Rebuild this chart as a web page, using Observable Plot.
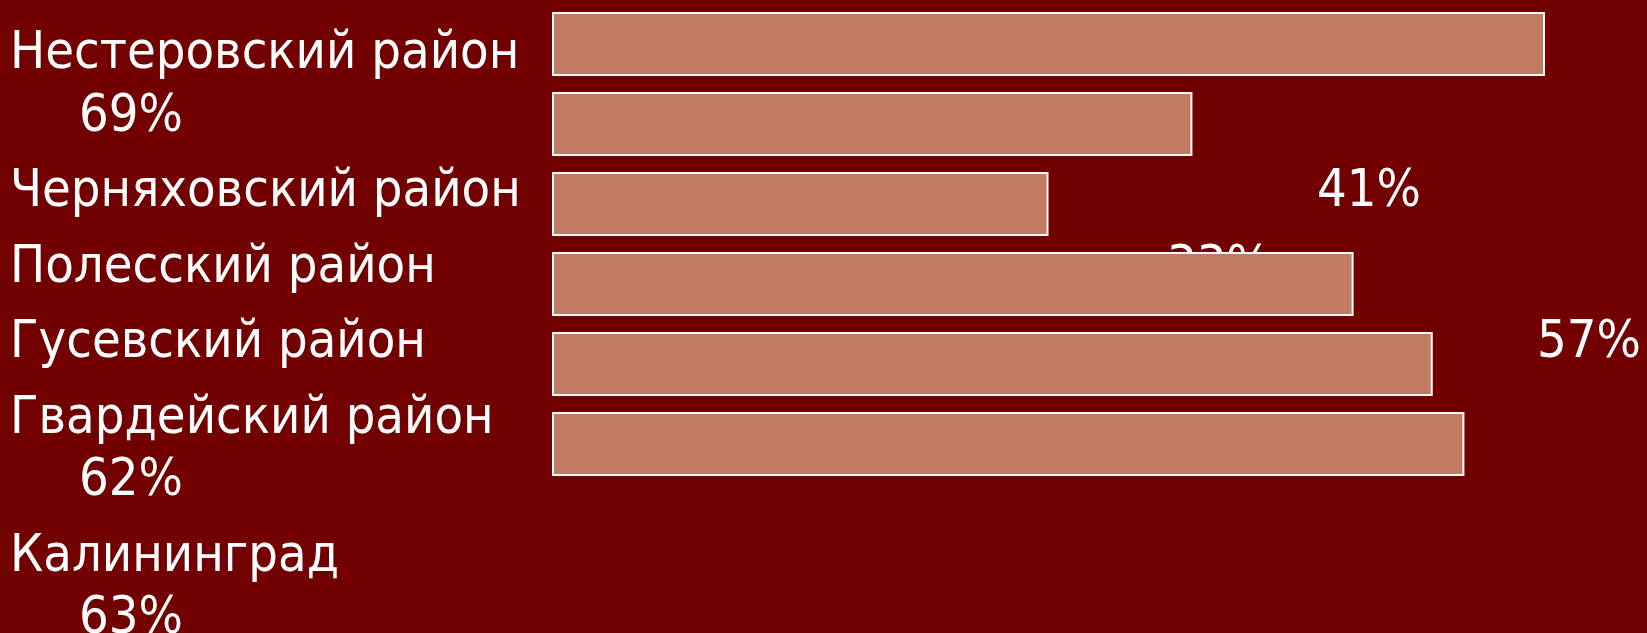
<!DOCTYPE html>
<html>
<head>
<meta charset="utf-8">
<script src="https://cdn.jsdelivr.net/npm/d3@7"></script>
<script src="https://cdn.jsdelivr.net/npm/@observablehq/plot@0.6"></script>
<style>
  html, body { margin: 0; padding: 0; background: #720000; }
  #stage { position: relative; width: 1647px; height: 633px; overflow: hidden; background: #720000; }
  #textblock {
    position: absolute; left: 10px; top: 0px; z-index: 0;
    font-family: "DejaVu Sans Condensed", "DejaVu Sans", sans-serif;
    font-size: 52px; line-height: 62.5px; color: #ffffff; white-space: nowrap;
  }
  #textblock .para { position: relative; margin-top: 13px; }
  #textblock .para:first-child { margin-top: 19px; }
  #textblock .line { position: relative; height: 62.5px; }
  #textblock .wrap { padding-left: 69px; }
  #textblock .tab { position: absolute; top: 0; }
  #chart { position: absolute; left: 0; top: 0; z-index: 1; }
  #chart svg { background: transparent; overflow: visible; }
</style>
</head>
<body>
<div id="stage">
  <div id="textblock"></div>
  <div id="chart"></div>
</div>
<script>
// Categories (top to bottom)
const districts = ["Нестеровский район", "Черняховский район", "Полесский район", "Гусевский район", "Гвардейский район", "Калининград"];
// Percent labels as printed in the text block
const percentLabels = ["69%", "41%", "33%", "57%", "62%", "63%"];
// Bar lengths (percent)
const barValues = [69, 44.5, 34.5, 55.7, 61.2, 63.4];
// How each label is laid out in the text block: "wrap" = percent on next line, "tab" = percent after tab stop
const labelLayout = ["wrap", "tab", "tab", "tab", "wrap", "wrap"];
const tabStops = [null, 1307, 1157, 1527, null, null];

const data = districts.map((d, i) => ({district: d, value: barValues[i], label: percentLabels[i]}));

// Text block (drawn behind the chart, like the original slide)
const tb = document.getElementById("textblock");
districts.forEach((d, i) => {
  const p = document.createElement("div");
  p.className = "para";
  const l1 = document.createElement("div");
  l1.className = "line";
  l1.textContent = d;
  p.appendChild(l1);
  if (labelLayout[i] === "wrap") {
    const l2 = document.createElement("div");
    l2.className = "line wrap";
    l2.textContent = percentLabels[i];
    p.appendChild(l2);
  } else {
    const s = document.createElement("span");
    s.className = "tab";
    s.style.left = tabStops[i] + "px";
    s.textContent = percentLabels[i];
    l1.appendChild(s);
  }
  tb.appendChild(p);
});

const chart = Plot.plot({
  width: 1647,
  height: 633,
  marginLeft: 552,
  marginRight: 102,
  marginTop: 12,
  marginBottom: 157,
  style: {background: "transparent"},
  x: {domain: [0, d3.max(barValues)], axis: null},
  y: {domain: districts, paddingInner: 0.2, paddingOuter: 0, align: 0, axis: null},
  marks: [
    Plot.barX(data, {x: "value", y: "district", fill: "#C07B63", stroke: "#ffffff", strokeWidth: 2, insetLeft: 1, insetRight: 1, insetTop: 1, insetBottom: 1})
  ]
});
document.getElementById("chart").appendChild(chart);
</script>
</body>
</html>
